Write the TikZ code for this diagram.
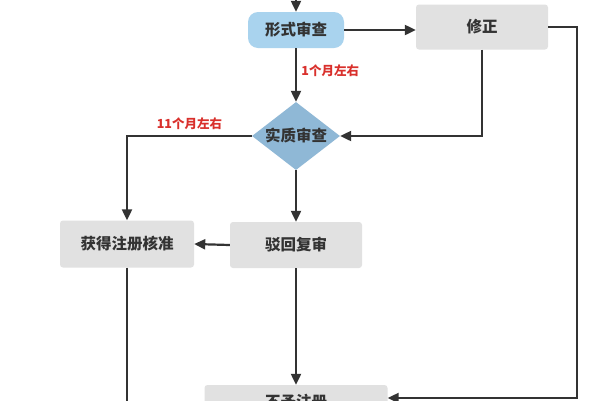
\documentclass[tikz,border=0pt]{standalone}
\usepackage{fontspec}
\setmainfont{Noto Sans CJK SC}
\usetikzlibrary{shapes.geometric,arrows.meta,calc}
\definecolor{boxgray}{HTML}{E1E1E1}
\definecolor{lblue}{HTML}{A9D3EE}
\definecolor{dblue}{HTML}{8FB8D6}
\definecolor{linec}{HTML}{333333}
\definecolor{redl}{HTML}{D9302C}
\tikzset{
  graybox/.style={fill=boxgray, rounded corners=3pt, inner sep=0pt, font=\fontsize{15.5}{17}\selectfont\bfseries, text=linec},
  conn/.style={draw=linec, line width=2.2pt, -{Triangle[length=11pt,width=10pt]}},
  plain/.style={draw=linec, line width=2.2pt},
  redlabel/.style={text=redl, font=\fontsize{12.5}{14}\selectfont\bfseries}
}
\begin{document}
\begin{tikzpicture}[x=1pt,y=-1pt]
\useasboundingbox (0,0) rectangle (600,400);
\clip (0,0) rectangle (600,400);
\fill[white] (0,0) rectangle (600,400);
\node[graybox, fill=lblue, rounded corners=10pt, minimum width=96pt, minimum height=36pt] (xs) at (296,30) {形式审查};
\node[graybox, minimum width=132pt, minimum height=45pt] (xz) at (482,27) {修正};
\node[graybox, shape=diamond, fill=dblue, rounded corners=0pt, aspect=1.3, minimum width=88pt, minimum height=68pt] (sz) at (296,136) {实质审查};
\node[graybox, minimum width=134pt, minimum height=47pt] (hd) at (127,244) {获得注册核准};
\node[graybox, minimum width=132pt, minimum height=46pt] (bh) at (296,245) {驳回复审};
\node[graybox, minimum width=183pt, minimum height=34pt] (by) at (296,402) {不予注册};
\coordinate (top) at (296,-5);
\coordinate (r1) at (577,27);
\coordinate (bin) at ($(by.east)+(0,-4)$);
\coordinate (hdend) at (129,410);
\draw[conn] (top) -- (xs.north);
\draw[conn] (xs.east) -- (xs.east -| xz.west);
\draw[conn] (xz.east) -- (r1) |- (bin);
\draw[conn] (xz.south) |- (sz.east);
\draw[conn] (xs.south) -- node[redlabel, right, pos=0.42, xshift=1pt] (l1) {1个月左右} (sz.north);
\draw[conn] (sz.west) -| node[redlabel, above, pos=0.25, yshift=2pt] (l2) {11个月左右} (hd.north);
\draw[conn] (sz.south) -- (bh.north);
\draw[conn] (bh.west) -- (hd.east);
\draw[conn] (bh.south) -- (by.north);
\draw[plain] (hd.south) -- (hd.south |- hdend);
\end{tikzpicture}
\end{document}
